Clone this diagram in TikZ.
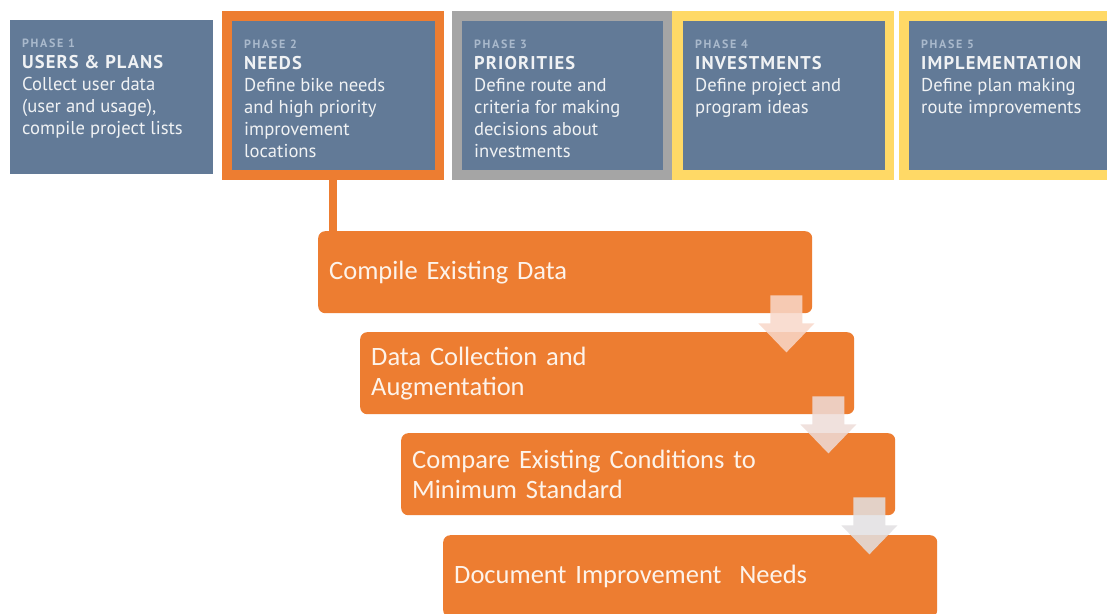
\documentclass[tikz,border=0pt]{standalone}
\usepackage{fontspec}
\setmainfont{PT Sans}
\newfontfamily\bodyfont{PT Sans}
\newfontfamily\titlefont[LetterSpace=6]{PT Sans Bold}
\newfontfamily\labelfont[LetterSpace=14]{PT Sans Bold}
\newfontfamily\stepfont{Carlito}
\usetikzlibrary{calc}

\definecolor{slate}{HTML}{627A97}
\definecolor{orng}{HTML}{ED7D31}
\definecolor{gold}{HTML}{FFD966}
\definecolor{framegrey}{HTML}{A5A5A5}
\definecolor{labelblue}{HTML}{A9B9CC}
\definecolor{boxtext}{HTML}{F0F2F4}
\definecolor{cream}{HTML}{FDF3EA}
\definecolor{arrowpink}{HTML}{F8D8CA}
\definecolor{arrowmid}{HTML}{EEDCD8}
\definecolor{arrowgrey}{HTML}{E2E0E2}

\tikzset{
  rect/.style={inner sep=0pt, outer sep=0pt, anchor=north west},
  framebox/.style={rect, fill=#1},
  phasebox/.style={rect, fill=slate},
  phaselabel/.style={anchor=base west, inner sep=0pt, text=labelblue,
    font=\labelfont\fontsize{12}{14}\selectfont},
  phasetitle/.style={anchor=base west, inner sep=0pt, text=boxtext,
    font=\titlefont\fontsize{18.5}{22}\selectfont},
  phasebody/.style={anchor=north west, inner sep=0pt, text=boxtext, align=left,
    font=\bodyfont\fontsize{18.6}{22}\selectfont},
  stepbox/.style={fill=orng, rounded corners=7pt, anchor=north west,
    minimum width=494pt, minimum height=82pt, text width=472pt,
    inner xsep=11pt, inner ysep=0pt, align=left, text=cream,
    font=\stepfont\fontsize{26.5}{30}\selectfont},
  flowarrow/.style={fill=#1, opacity=0.85},
}

\begin{document}
\begin{tikzpicture}[x=1pt, y=-1pt]
\clip (0,0) rectangle (1107,613);
\fill[white] (0,0) rectangle (1107,613);

% coloured frames behind phases 2 to 5
\node[framebox=orng, minimum width=222pt, minimum height=169pt] (f2) at (222,11) {};
\node[framebox=framegrey, minimum width=220pt, minimum height=169pt] (f3) at (452,11) {};
\node[framebox=gold, minimum width=222pt, minimum height=169pt] (f4) at (672,11) {};
\node[framebox=gold, minimum width=230pt, minimum height=169pt] (f5) at (899,11) {};

% phase boxes
\node[phasebox, minimum width=203pt, minimum height=154pt] (p1) at (10,20) {};
\node[phasebox, minimum width=203pt, minimum height=149pt] (p2) at (232,21) {};
\node[phasebox, minimum width=201pt, minimum height=149pt] (p3) at (462,21) {};
\node[phasebox, minimum width=202pt, minimum height=149pt] (p4) at (683,21) {};
\node[phasebox, minimum width=210pt, minimum height=149pt] (p5) at (909,21) {};

% phase texts
\foreach \p/\n/\t/\b in {
  p1/1/USERS \& PLANS/{Collect user data\\(user and usage),\\compile project lists},
  p2/2/NEEDS/{Define bike needs\\and high priority\\improvement\\locations},
  p3/3/PRIORITIES/{Define route and\\criteria for making\\decisions about\\investments},
  p4/4/INVESTMENTS/{Define project and\\program ideas},
  p5/5/IMPLEMENTATION/{Define plan making\\route improvements}}{
  \node[phaselabel] (\p lab) at ($(\p.north west)+(12,27)$) {PHASE \n};
  \node[phasetitle] (\p tit) at ($(\p.north west)+(12,48)$) {\t};
  \node[phasebody] (\p body) at ($(\p.north west)+(12,57)$) {\b};
}

% process steps
\node[stepbox] (s1) at (318,231) {Compile Existing Data};
\node[stepbox] (s2) at (360,332) {Data Collection and\\Augmentation};
\node[stepbox] (s3) at (401,433) {Compare Existing Conditions to\\Minimum Standard};
\node[stepbox] (s4) at (443,535) {Document Improvement~~Needs};

% link from phase 2 to the steps
\draw[orng, line width=8pt] (f2.south) -- (f2.south |- s1.north);

% step arrows
\foreach \a/\c in {s1/arrowpink, s2/arrowmid, s3/arrowgrey}{
  \fill[flowarrow=\c] ($(\a.south east)+(-42,-18)$) -- ++(32,0) -- ++(0,28)
    -- ++(12,0) -- ++(-28,29) -- ++(-28,-29) -- ++(12,0) -- cycle;
}
\end{tikzpicture}
\end{document}
